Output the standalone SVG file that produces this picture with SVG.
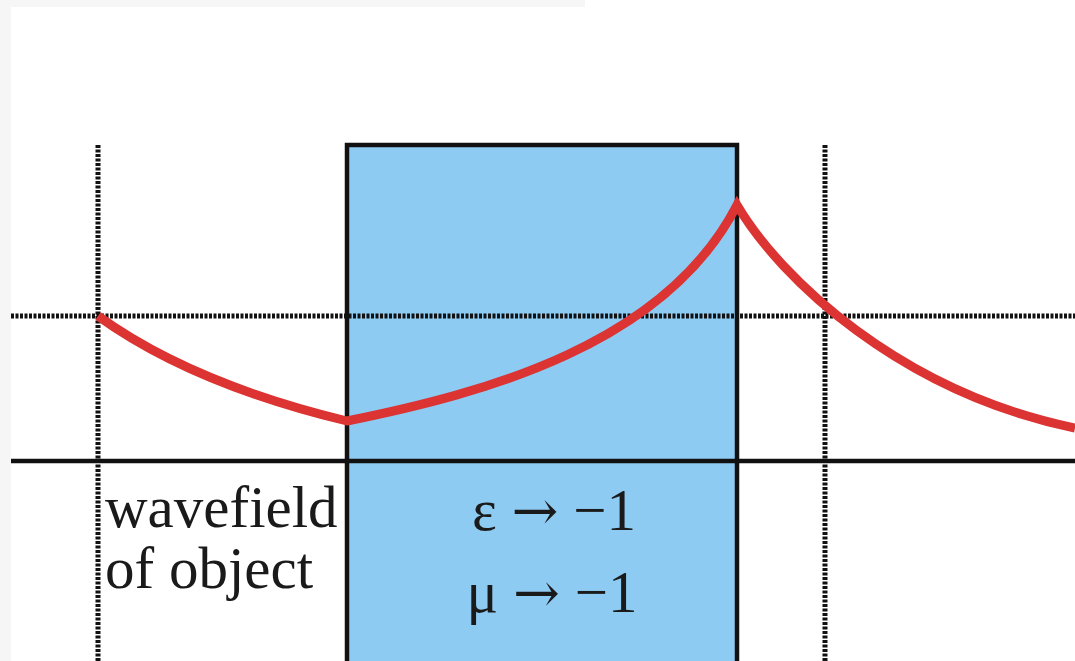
<svg xmlns="http://www.w3.org/2000/svg" width="1075" height="661" viewBox="0 0 1075 661">
<style>
.dot{stroke:#111;stroke-width:5;stroke-dasharray:3 1.5;fill:none}
.axis{stroke:#111;stroke-width:4.5;fill:none}
.lbl{font-family:"Liberation Serif","Times New Roman",serif;font-size:59px;fill:#1a1a1a}
.arr{font-family:"DejaVu Serif",serif;font-size:56px}
.curve{stroke:#dc3333;stroke-width:9;fill:none;stroke-linejoin:miter;stroke-linecap:butt}
</style>
<rect x="0" y="0" width="1075" height="661" fill="#ffffff"/>
<rect x="0" y="0" width="585" height="7" fill="#f6f6f6"/>
<rect x="0" y="0" width="11" height="661" fill="#f6f6f6"/>
<g id="slab">
<rect x="347" y="145" width="390" height="530" fill="#8ecbf3" stroke="#111" stroke-width="4.5"/>
</g>
<g id="connectors">
<line class="dot" x1="11" y1="316" x2="1075" y2="316"/>
<line class="dot" x1="98" y1="145" x2="98" y2="661"/>
<line class="dot" x1="825" y1="145" x2="825" y2="661"/>
<line class="axis" x1="11" y1="461" x2="1075" y2="461"/>
<path class="curve" d="M98,316 C170,368 260,400 347,421 C485,393 665,345 737,205 C780,278 900,392 1075,428"/>
</g>
<g id="label-object">
<text class="lbl" x="105" y="527">wavefield</text>
<text class="lbl" x="105" y="588">of object</text>
</g>
<g id="label-slab">
<text class="lbl" x="554" y="530" text-anchor="middle">ε <tspan class="arr">→</tspan> −1</text>
<text class="lbl" x="552" y="612" text-anchor="middle">μ <tspan class="arr">→</tspan> −1</text>
</g>
</svg>
